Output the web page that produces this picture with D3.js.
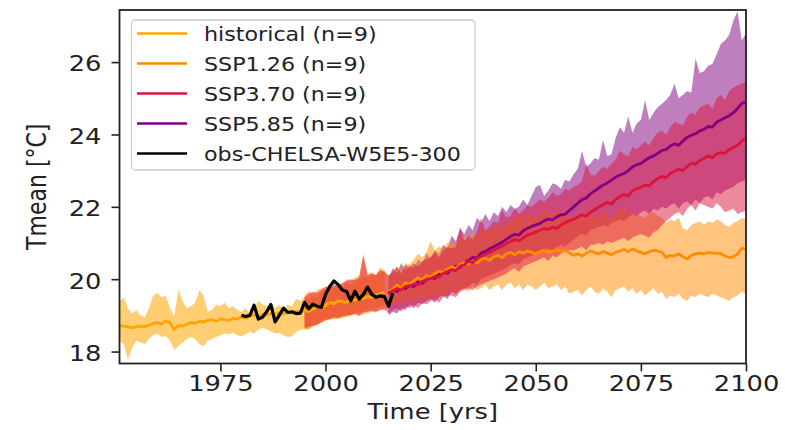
<!DOCTYPE html>
<html>
<head>
<meta charset="utf-8">
<script src="https://cdn.jsdelivr.net/npm/d3@7"></script>
<style>
  html, body { margin: 0; padding: 0; background: #fff; }
  svg { display: block; font-family: "DejaVu Sans", sans-serif; }
</style>
</head>
<body>
<svg id="chart" width="785" height="430"></svg>
<script>
// ---- data -------------------------------------------------------------
const histStart = 1951;
const histMean = [18.72,18.70,18.68,18.66,18.68,18.70,18.69,18.72,18.78,18.80,
  18.76,18.84,18.80,18.60,18.72,18.70,18.76,18.80,18.78,18.84,
  18.82,18.86,18.88,18.84,18.90,18.88,18.86,18.92,18.90,18.96,
  18.92,18.98,19.02,18.96,19.04,19.00,19.06,19.02,19.08,19.04,
  19.10,19.06,19.12,19.08,19.14,19.10,19.18,19.22,19.20,19.28,
  19.36,19.32,19.40,19.38,19.36,19.44,19.42,19.48,19.46,19.52,
  19.50,19.56,19.60,19.64];
const histUpper = [19.40,19.50,19.20,19.05,19.15,19.00,18.95,19.20,19.55,19.62,
  19.50,19.55,19.20,18.98,19.70,19.40,19.20,19.25,19.35,19.70,
  19.55,19.10,19.15,19.30,19.25,19.35,19.20,19.25,19.15,19.10,
  19.20,19.05,19.15,19.40,19.30,19.25,19.35,19.20,19.30,19.15,
  19.30,19.25,19.45,19.40,19.50,19.45,19.55,19.50,19.65,19.70,
  19.75,19.80,19.85,19.75,19.90,19.85,19.95,20.00,20.10,20.05,
  20.15,20.10,20.20,20.25];
const histLower = [18.30,18.20,17.78,18.10,18.30,18.25,18.20,18.35,18.45,18.50,
  18.40,18.42,18.30,18.05,18.15,18.25,18.35,18.40,18.35,18.20,
  18.15,18.30,18.35,18.40,18.45,18.50,18.48,18.52,18.45,18.42,
  18.48,18.55,18.50,18.60,18.65,18.62,18.55,18.50,18.52,18.45,
  18.40,18.42,18.55,18.60,18.62,18.60,18.70,18.75,18.80,18.85,
  18.88,18.90,18.95,18.92,19.00,18.98,19.05,19.10,19.08,19.15,
  19.18,19.20,19.25,19.28];

// scenario means start in 2015
const sspStart = 2015;
const ssp126Mean = [19.66,19.72,19.84,19.76,19.90,19.86,19.96,20.04,19.98,20.10,
  20.06,20.16,20.22,20.18,20.28,20.34,20.30,20.40,20.46,20.42,
  20.50,20.44,20.54,20.58,20.52,20.62,20.66,20.60,20.70,20.74,
  20.68,20.76,20.72,20.78,20.74,20.70,20.76,20.80,20.74,20.78,
  20.82,20.76,20.80,20.72,20.66,20.70,20.64,20.72,20.78,20.74,
  20.70,20.76,20.72,20.68,20.74,20.78,20.82,20.76,20.84,20.78,
  20.74,20.70,20.76,20.80,20.78,20.74,20.60,20.66,20.64,20.70,
  20.62,20.56,20.66,20.70,20.72,20.70,20.74,20.72,20.72,20.70,
  20.64,20.60,20.62,20.70,20.86,20.82];
const ssp370Mean = [19.62,19.68,19.74,19.70,19.80,19.82,19.86,19.84,19.94,19.98,
  20.02,20.08,20.06,20.16,20.22,20.26,20.24,20.36,20.40,20.50,
  20.46,20.56,20.64,20.68,20.74,20.80,20.86,20.92,20.98,21.04,
  21.10,21.06,21.14,21.22,21.26,21.30,21.36,21.40,21.38,21.44,
  21.40,21.50,21.56,21.62,21.66,21.72,21.78,21.74,21.86,21.92,
  22.00,22.06,22.12,22.08,22.20,22.28,22.34,22.30,22.44,22.50,
  22.54,22.60,22.58,22.70,22.78,22.84,22.80,22.92,22.98,23.04,
  23.00,23.12,23.20,23.18,23.28,23.34,23.40,23.36,23.46,23.50,
  23.48,23.58,23.64,23.70,23.82,23.90];
const ssp585Mean = [19.60,19.72,19.66,19.78,19.74,19.82,19.80,19.92,19.88,20.00,
  20.05,20.02,20.14,20.20,20.16,20.30,20.36,20.32,20.46,20.52,
  20.60,20.58,20.72,20.76,20.84,20.90,20.96,21.02,21.10,21.18,
  21.24,21.22,21.34,21.40,21.46,21.50,21.54,21.62,21.66,21.64,
  21.72,21.78,21.80,21.90,22.00,22.10,22.20,22.24,22.36,22.44,
  22.52,22.60,22.66,22.74,22.82,22.88,22.92,23.00,23.10,23.16,
  23.20,23.28,23.36,23.40,23.48,23.56,23.58,23.68,23.74,23.70,
  23.82,23.92,23.98,24.02,24.10,24.14,24.22,24.20,24.34,24.40,
  24.46,24.52,24.60,24.72,24.86,24.90];

// scenario spreads; SSP1.26 and SSP3.70 spreads include the 1995-2014 reference period
const ssp126BandStart = 1995;
const ssp126Upper = [19.55,19.67,19.60,19.70,19.75,19.80,19.82,19.78,19.90,19.85,
  20.00,19.95,20.05,20.10,20.70,20.15,20.20,20.10,20.32,20.25,
  20.10,20.20,20.35,20.25,20.45,20.40,20.55,20.70,20.60,20.75,
  21.05,20.80,20.90,20.85,21.00,21.05,20.95,21.15,21.20,21.10,
  21.30,21.20,21.35,21.40,21.30,21.45,21.50,21.40,21.55,21.60,
  21.65,21.85,21.70,21.80,21.75,21.70,21.85,21.95,21.75,21.80,
  21.95,21.75,21.90,21.70,21.65,21.80,21.70,21.85,21.95,21.75,
  21.70,21.90,21.75,21.65,21.85,21.95,22.00,21.75,21.90,21.80,
  21.75,21.70,21.80,21.85,21.75,21.70,21.55,21.65,21.60,21.70,
  21.40,21.35,21.50,21.55,21.60,21.50,21.60,21.55,21.65,21.60,
  21.50,21.45,21.55,21.60,21.70,21.65];
const ssp126Lower = [18.62,18.62,18.70,18.72,18.80,18.85,18.89,18.92,18.90,18.95,
  18.95,19.00,19.02,18.98,19.03,19.05,19.10,19.08,19.17,19.12,
  19.25,19.30,19.40,19.30,19.45,19.35,19.45,19.50,19.40,19.50,
  19.45,19.55,19.60,19.50,19.65,19.70,19.60,19.70,19.75,19.65,
  19.80,19.70,19.75,19.85,19.70,19.80,19.85,19.70,19.85,19.90,
  19.75,19.85,19.70,19.85,19.80,19.70,19.80,19.90,19.75,19.80,
  19.85,19.70,19.80,19.60,19.65,19.70,19.55,19.70,19.80,19.65,
  19.60,19.75,19.65,19.50,19.70,19.75,19.80,19.65,19.75,19.60,
  19.70,19.55,19.65,19.75,19.60,19.65,19.45,19.55,19.50,19.60,
  19.45,19.40,19.55,19.50,19.60,19.55,19.50,19.60,19.55,19.50,
  19.45,19.40,19.50,19.55,19.65,19.60];
const ssp370BandStart = 1995;
const ssp370Upper = [19.50,19.60,19.65,19.62,19.70,19.78,19.80,19.85,19.82,19.90,
  19.95,20.00,19.98,20.05,20.65,20.10,20.15,20.12,20.25,20.20,
  20.10,20.20,20.35,20.15,20.40,20.30,20.45,20.35,20.50,20.55,
  20.60,20.75,20.60,20.80,20.90,20.85,20.90,21.45,21.05,21.20,
  21.10,21.30,21.70,21.35,21.45,21.60,21.55,21.90,21.70,21.75,
  21.95,21.80,21.90,22.05,22.00,22.10,22.20,22.15,22.25,22.40,
  22.30,22.35,22.50,22.45,22.55,22.60,22.70,23.20,22.90,22.85,
  23.00,23.10,23.05,23.20,23.30,23.55,23.45,23.40,23.65,23.60,
  23.70,23.80,23.70,23.90,24.05,24.10,24.00,24.20,24.35,24.30,
  24.25,24.50,24.60,24.55,24.75,24.80,24.85,24.70,25.00,25.10,
  24.95,25.20,25.30,25.35,25.40,25.45];
const ssp370Lower = [18.65,18.68,18.72,18.75,18.82,18.88,18.90,18.95,18.92,18.98,
  19.00,19.02,19.05,19.00,19.08,19.10,19.12,19.10,19.15,19.18,
  19.05,19.15,19.20,19.10,19.25,19.20,19.30,19.20,19.35,19.30,
  19.40,19.45,19.35,19.50,19.55,19.55,19.50,19.65,19.70,19.75,
  19.70,19.80,19.85,19.90,19.95,20.00,20.05,20.10,20.15,20.25,
  20.30,20.20,20.35,20.40,20.45,20.50,20.55,20.60,20.50,20.65,
  20.60,20.70,20.75,20.80,20.80,20.85,20.90,20.80,20.95,20.95,
  21.00,20.95,21.05,21.00,21.05,21.10,21.15,21.05,21.15,21.20,
  21.25,21.20,21.15,21.30,21.35,21.50,21.60,21.70,21.80,21.85,
  21.75,21.95,22.05,21.90,22.10,22.05,22.00,21.95,22.10,22.00,
  21.85,21.90,21.95,21.80,21.85,21.90];
const ssp585BandStart = 2015;
const ssp585Upper = [20.05,20.30,20.15,20.45,20.25,20.40,20.30,20.55,20.45,20.70,
  20.60,20.80,20.70,20.95,20.85,21.20,21.05,21.40,21.25,21.50,
  21.35,21.70,21.55,21.80,21.60,21.85,21.75,22.00,21.85,22.05,
  21.95,22.00,22.20,22.05,22.30,22.55,22.60,22.30,22.45,22.65,
  22.60,22.50,22.75,22.70,22.90,23.05,23.55,23.10,23.20,23.35,
  23.30,23.85,23.40,23.45,23.90,24.20,24.05,24.50,24.05,24.30,
  24.40,24.95,24.40,24.60,24.75,24.85,24.95,25.10,25.40,25.00,
  25.10,25.20,25.15,26.10,25.70,25.75,25.90,25.95,26.20,26.50,
  26.60,26.75,27.15,27.40,26.60,26.80];
const ssp585Lower = [19.00,19.10,19.05,19.20,19.15,19.30,19.20,19.35,19.30,19.40,
  19.45,19.35,19.50,19.55,19.45,19.65,19.60,19.70,19.75,19.80,
  19.90,19.85,20.00,20.05,20.10,20.15,20.20,20.25,20.30,20.40,
  20.45,20.40,20.55,20.60,20.65,20.70,20.75,20.80,20.85,20.80,
  20.90,20.95,20.90,21.00,21.10,21.20,21.25,21.20,21.35,21.40,
  21.45,21.50,21.45,21.55,21.60,21.65,21.60,21.70,21.80,21.75,
  21.85,21.90,21.80,21.95,21.90,22.00,21.95,22.05,22.10,21.95,
  22.10,22.15,22.05,22.20,22.10,22.25,22.30,22.20,22.40,22.35,
  22.45,22.50,22.55,22.65,22.70,22.75];

// observations
const obsStart = 1980;
const obsValues = [19.00,18.97,19.00,19.28,18.90,18.95,19.10,19.30,18.82,19.00,
  19.20,19.08,19.10,19.05,19.06,19.36,19.18,19.31,19.25,19.22,
  19.58,19.80,19.95,19.85,19.70,19.66,19.40,19.67,19.45,19.58,
  19.78,19.58,19.50,19.54,19.52,19.25,19.62];

const xTicks = [1975, 2000, 2025, 2050, 2075, 2100];
const yTicks = [18, 20, 22, 24, 26];
const legendLabels = ["historical (n=9)", "SSP1.26 (n=9)", "SSP3.70 (n=9)", "SSP5.85 (n=9)", "obs-CHELSA-W5E5-300"];
const seriesColors = ["#ffa500", "#ff8c00", "#dc143c", "#800080", "#000000"];

// ---- layout -----------------------------------------------------------
const plot = { left: 119.5, right: 746, top: 10, bottom: 363.5 };
const textStretch = 1.17;   // horizontal glyph stretch used for all labels

const x = d3.scaleLinear().domain([1951, 2100]).range([plot.left, plot.right]);
const y = d3.scaleLinear().domain([17.67, 27.44]).range([plot.bottom, plot.top]);

const svg = d3.select("#chart");

svg.append("defs").append("clipPath").attr("id", "plotClip")
  .append("rect")
  .attr("x", plot.left).attr("y", plot.top)
  .attr("width", plot.right - plot.left).attr("height", plot.bottom - plot.top);

const toPoints = (start, vals) => vals.map((v, i) => ({ yr: start + i, v }));
const toBand = (start, up, lo) => up.map((u, i) => ({ yr: start + i, u, l: lo[i] }));

const line = d3.line().x(d => x(d.yr)).y(d => y(d.v));
const area = d3.area().x(d => x(d.yr)).y0(d => y(d.l)).y1(d => y(d.u));

const g = svg.append("g").attr("clip-path", "url(#plotClip)");

// spreads: SSP5.85 underneath, SSP3.70 on top
const bands = [
  { data: toBand(histStart, histUpper, histLower), color: seriesColors[0], op: 0.55 },
  { data: toBand(ssp585BandStart, ssp585Upper, ssp585Lower), color: seriesColors[3], op: 0.5 },
  { data: toBand(ssp126BandStart, ssp126Upper, ssp126Lower), color: seriesColors[1], op: 0.5 },
  { data: toBand(ssp370BandStart, ssp370Upper, ssp370Lower), color: seriesColors[2], op: 0.5 }
];
bands.forEach(b => {
  g.append("path").datum(b.data)
    .attr("d", area)
    .attr("fill", b.color)
    .attr("fill-opacity", b.op)
    .attr("stroke", "none");
});

// ensemble means and observations
const lines = [
  { data: toPoints(histStart, histMean), color: seriesColors[0], w: 2.8 },
  { data: toPoints(sspStart, ssp585Mean), color: seriesColors[3], w: 2.8 },
  { data: toPoints(sspStart, ssp126Mean), color: seriesColors[1], w: 2.8 },
  { data: toPoints(sspStart, ssp370Mean), color: seriesColors[2], w: 2.8 },
  { data: toPoints(obsStart, obsValues), color: seriesColors[4], w: 3.2 }
];
lines.forEach(l => {
  g.append("path").datum(l.data)
    .attr("d", line)
    .attr("fill", "none")
    .attr("stroke", l.color)
    .attr("stroke-width", l.w)
    .attr("stroke-linejoin", "round");
});

// ---- axes -------------------------------------------------------------
const axisColor = "#222";
const xAxis = svg.append("g")
  .attr("transform", `translate(0,${plot.bottom})`)
  .call(d3.axisBottom(x).tickValues(xTicks).tickFormat(d3.format("d")).tickSize(8).tickPadding(4));
const yAxis = svg.append("g")
  .attr("transform", `translate(${plot.left},0)`)
  .call(d3.axisLeft(y).tickValues(yTicks).tickFormat(d3.format("d")).tickSize(8).tickPadding(10));

[xAxis, yAxis].forEach(a => {
  a.select(".domain").remove();
  a.selectAll(".tick line").attr("stroke", axisColor).attr("stroke-width", 1.6);
  a.selectAll(".tick text").attr("fill", "#222").attr("font-size", 22)
    .attr("font-family", "DejaVu Sans");
});

// stretch tick labels horizontally around their anchor
xAxis.selectAll(".tick text")
  .attr("y", null).attr("dy", null)
  .attr("dominant-baseline", "alphabetic")
  .attr("transform", `translate(0,27) scale(${textStretch},1)`);
yAxis.selectAll(".tick text")
  .attr("x", null).attr("dy", null)
  .attr("dominant-baseline", "central")
  .attr("transform", `translate(-18,1.5) scale(${textStretch},1)`);

// frame
svg.append("rect")
  .attr("x", plot.left).attr("y", plot.top)
  .attr("width", plot.right - plot.left).attr("height", plot.bottom - plot.top)
  .attr("fill", "none").attr("stroke", axisColor).attr("stroke-width", 1.8);

// axis titles
svg.append("text")
  .attr("transform", `translate(${(plot.left + plot.right) / 2},419) scale(${textStretch},1)`)
  .attr("text-anchor", "middle")
  .attr("font-size", 22).attr("fill", "#222")
  .text("Time [yrs]");
svg.append("text")
  .attr("transform", `translate(46,${(plot.top + plot.bottom) / 2}) scale(${textStretch},1) rotate(-90)`)
  .attr("text-anchor", "middle")
  .attr("font-size", 22).attr("fill", "#222")
  .text("Tmean [°C]");

// ---- legend -----------------------------------------------------------
const legend = svg.append("g");
legend.append("rect")
  .attr("x", 131.5).attr("y", 20).attr("width", 343.5).attr("height", 150)
  .attr("rx", 4).attr("ry", 4)
  .attr("fill", "#fff").attr("fill-opacity", 0.8)
  .attr("stroke", "#cccccc").attr("stroke-width", 1.3);
legendLabels.forEach((lab, i) => {
  const ry = 33.5 + i * 30;
  legend.append("line")
    .attr("x1", 137).attr("x2", 187).attr("y1", ry).attr("y2", ry)
    .attr("stroke", seriesColors[i]).attr("stroke-width", 2.6);
  legend.append("text")
    .attr("transform", `translate(204,${ry + 7}) scale(${textStretch},1)`)
    .attr("font-size", 19).attr("fill", "#222")
    .text(lab);
});
</script>
</body>
</html>
